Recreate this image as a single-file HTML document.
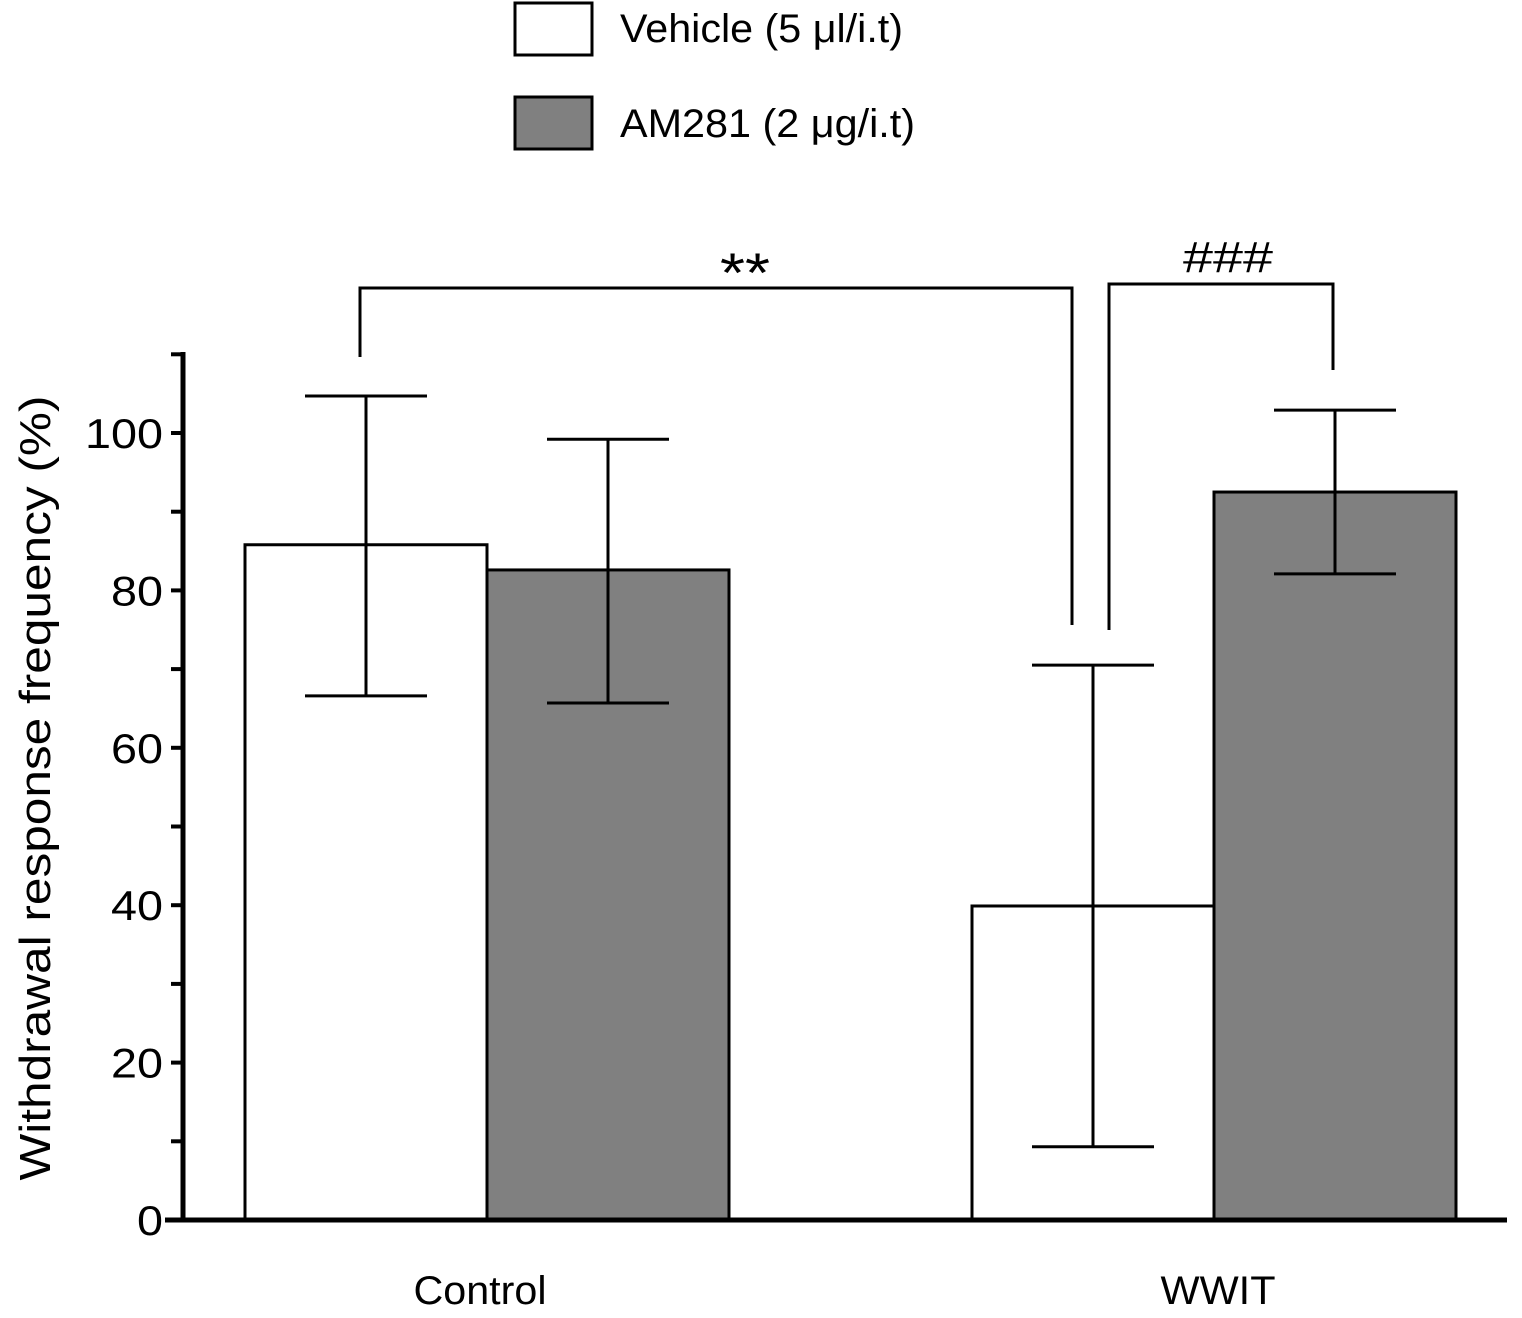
<!DOCTYPE html>
<html><head><meta charset="utf-8"><style>
body{margin:0;background:#fff;}
svg text{font-family:"Liberation Sans",Arial,sans-serif;fill:#000;}
</style></head><body>
<svg id="chart" width="1522" height="1313" viewBox="0 0 1522 1313">
<g id="legend">
 <rect x="515" y="3" width="77" height="52" fill="#fff" stroke="#000" stroke-width="3"/>
 <text x="620" y="42" font-size="40" textLength="283" lengthAdjust="spacingAndGlyphs">Vehicle (5 μl/i.t)</text>
 <rect x="515" y="97" width="77" height="52" fill="#808080" stroke="#000" stroke-width="3"/>
 <text x="620" y="137" font-size="40" textLength="295" lengthAdjust="spacingAndGlyphs">AM281 (2 μg/i.t)</text>
</g>
<text transform="translate(50,788) rotate(-90)" text-anchor="middle" font-size="44" textLength="785" lengthAdjust="spacingAndGlyphs">Withdrawal response frequency (%)</text>
<g id="plot"></g>
</svg>
<script>
const categories=["Control","WWIT"];
const vehicleMeans=[85.8,39.9];
const vehicleLow=[66.6,9.3];
const vehicleHigh=[104.7,70.5];
const amMeans=[82.6,92.5];
const amLow=[65.7,82.1];
const amHigh=[99.2,102.9];
const yTicks=[0,20,40,60,80,100];
const ns="http://www.w3.org/2000/svg";
const g=document.getElementById('plot');
function y(v){return 1220-v*7.87;}
const groupLeft=[245,972], barW=242;
const catCenters=[480,1218], catWidths=[133,115];
function mk(tag,attrs){const e=document.createElementNS(ns,tag);for(const k in attrs)e.setAttribute(k,attrs[k]);g.appendChild(e);return e;}
let ax=mk('line',{x1:183,y1:352,x2:183,y2:1222,stroke:'#000','stroke-width':5});


for(let v=0;v<=110;v+=10){
 const t=mk('line',{x1:171,y1:y(v),x2:183,y2:y(v),stroke:'#000','stroke-width':4});
 
 
}
yTicks.forEach(v=>{
 const s=String(v);
 const t=mk('text',{x:163,y:y(v)+15,'text-anchor':'end','font-size':42,textLength:26*s.length,lengthAdjust:'spacingAndGlyphs'});
 t.textContent=s;
 
 
});
function bar(x,mean,lo,hi,fill,name){
 const r=mk('rect',{x:x,y:y(mean),width:barW,height:y(0)-y(mean),fill:fill,stroke:'#000','stroke-width':3});
 
 
 const cx=x+barW/2;
 const e=mk('path',{d:`M${cx},${y(hi)}V${y(lo)}M${cx-61},${y(hi)}H${cx+61}M${cx-61},${y(lo)}H${cx+61}`,stroke:'#000','stroke-width':3,fill:'none'});
 
 
}
categories.forEach((c,i)=>{
 bar(groupLeft[i],vehicleMeans[i],vehicleLow[i],vehicleHigh[i],'#fff','bar-'+c.toLowerCase()+'-vehicle');
 bar(groupLeft[i]+barW,amMeans[i],amLow[i],amHigh[i],'#808080','bar-'+c.toLowerCase()+'-am281');
 const t=mk('text',{x:catCenters[i],y:1304,'text-anchor':'middle','font-size':40,textLength:catWidths[i],lengthAdjust:'spacingAndGlyphs'});
 t.textContent=c;
 
 
});
let xa=mk('line',{x1:165,y1:1220,x2:1507,y2:1220,stroke:'#000','stroke-width':5});


let b1=mk('path',{d:'M360,357V288H1072V625',stroke:'#000','stroke-width':3,fill:'none'});


let s1=mk('text',{x:745,y:292,'text-anchor':'middle','font-size':56,textLength:50,lengthAdjust:'spacingAndGlyphs'});s1.textContent='**';


let b2=mk('path',{d:'M1109,630V284H1333V370',stroke:'#000','stroke-width':3,fill:'none'});


let s2=mk('text',{x:1228,y:272,'text-anchor':'middle','font-size':44,textLength:90,lengthAdjust:'spacingAndGlyphs'});s2.textContent='###';


</script>
</body></html>
